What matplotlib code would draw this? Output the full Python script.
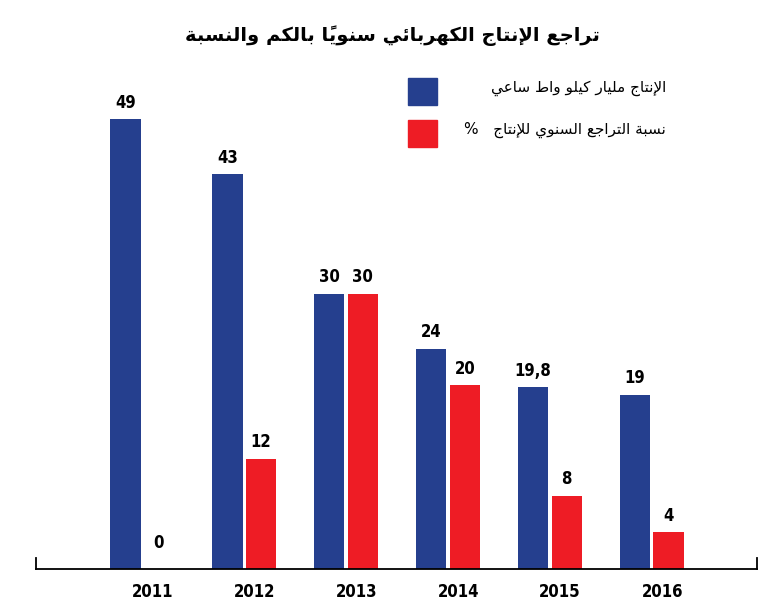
import numpy as np
import matplotlib
matplotlib.use('Agg')
from matplotlib import pyplot as plt
from matplotlib.patches import Rectangle

''' Data '''
years = ['2011', '2012', '2013', '2014', '2015', '2016']
production = [49, 43, 30, 24, 19.8, 19]
prod_labels = ['49', '43', '30', '24', '19,8', '19']
decline = [0, 12, 30, 20, 8, 4]
decline_labels = ['0', '12', '30', '20', '8', '4']

title = 'تراجع الإنتاج الكهربائي سنوياً بالكم والنسبة'
legend1 = 'الإنتاج مليار كيلو واط ساعي'
legend2 = 'نسبة التراجع السنوي للإنتاج   %'

''' Minimal Arabic shaping (matplotlib has none) '''
# base codepoint in Presentation Forms-B, number of forms (2 = right joining only)
FORMS = {
    'ا': (0xFE8D, 2), 'إ': (0xFE87, 2), 'أ': (0xFE83, 2), 'ب': (0xFE8F, 4),
    'ت': (0xFE95, 4), 'ة': (0xFE93, 2), 'ج': (0xFE9D, 4), 'ر': (0xFEAD, 2),
    'س': (0xFEB1, 4), 'ع': (0xFEC9, 4), 'ك': (0xFED9, 4), 'ل': (0xFEDD, 4),
    'م': (0xFEE1, 4), 'ن': (0xFEE5, 4), 'ه': (0xFEE9, 4), 'و': (0xFEED, 2),
    'ي': (0xFEF1, 4), 'ئ': (0xFE89, 4), 'ط': (0xFEC1, 4),
}
LAM_ALEF = {'ا': 0xFEFB, 'إ': 0xFEF9, 'أ': 0xFEF7}
MARKS = set('\u064b\u064c\u064d\u064e\u064f\u0650\u0651\u0652')


def shape(text):
    # group base letters with their marks
    clusters = []
    for ch in text:
        if ch in MARKS and clusters:
            clusters[-1][1] += ch
        else:
            clusters.append([ch, ''])
    # lam-alef ligatures
    merged = []
    i = 0
    while i < len(clusters):
        c = clusters[i]
        if c[0] == 'ل' and i + 1 < len(clusters) and clusters[i + 1][0] in LAM_ALEF:
            merged.append(['LA' + clusters[i + 1][0], c[1] + clusters[i + 1][1]])
            i += 2
        else:
            merged.append(c)
            i += 1

    def joins_left(b):  # can connect to next letter
        if b.startswith('LA'):
            return False
        return b in FORMS and FORMS[b][1] == 4

    def joins_right(b):
        return b.startswith('LA') or b in FORMS

    out = []
    for k, (b, m) in enumerate(merged):
        prev_j = k > 0 and joins_left(merged[k - 1][0]) and joins_right(b)
        next_j = k + 1 < len(merged) and joins_left(b) and joins_right(merged[k + 1][0])
        if b.startswith('LA'):
            g = chr(LAM_ALEF[b[2]] + (1 if prev_j else 0))
        elif b in FORMS:
            base, n = FORMS[b]
            if n == 4 and prev_j and next_j:
                g = chr(base + 3)
            elif n == 4 and next_j:
                g = chr(base + 2)
            elif prev_j:
                g = chr(base + 1)
            else:
                g = chr(base)
        else:
            g = b
        out.append(g + m)
    return ''.join(reversed(out))


blue = '#253f8e'
red = '#ee1c25'
numfont = dict(family='DejaVu Sans', fontstretch='condensed', fontweight='bold')

W, H = 784, 609
fig = plt.figure(figsize=(W / 100, H / 100), dpi=100)
ax = fig.add_axes([36 / W, 40 / H, (757 - 36) / W, (569 - 64) / H])

x = np.arange(len(years))
bw = 0.3
off = 0.165
ax.bar(x - off, production, bw, color=blue)
ax.bar(x + off, decline, bw, color=red)
for i in range(len(years)):
    ax.text(x[i] - off, production[i] + 0.8, prod_labels[i], ha='center', va='bottom',
            fontsize=12, **numfont)
    lift = 1.8 if decline[i] == 0 else 0.8
    ax.text(x[i] + off, decline[i] + lift, decline_labels[i], ha='center', va='bottom',
            fontsize=12, **numfont)

ax.set_xlim(-1.04, 6.03)
ax.set_ylim(0, 55)
for s in ['top', 'right', 'left']:
    ax.spines[s].set_visible(False)
ax.spines['bottom'].set_linewidth(1.3)
ax.plot([-1.04, -1.04], [0, 1.2], color='black', lw=1.3, clip_on=False)
ax.plot([6.03, 6.03], [0, 1.2], color='black', lw=1.3, clip_on=False)
ax.set_yticks([])
ax.set_xticks(x + 0.1)
ax.set_xticklabels(years, fontsize=12, **numfont)
ax.tick_params(axis='x', length=0, pad=10)

fig.text(392 / W, 1 - 36 / H, shape(title), ha='center', va='center',
         fontsize=14, fontweight='bold', family='DejaVu Sans')

for yy, col, txt in [(78, blue, legend1), (120, red, legend2)]:
    fig.patches.append(Rectangle((408 / W, 1 - (yy + 27) / H), 29 / W, 27 / H,
                                 color=col, transform=fig.transFigure))
    fig.text(666 / W, 1 - (yy + 10) / H, shape(txt), ha='right', va='center',
             fontsize=11, family='DejaVu Sans')

fig.savefig('out.png', dpi=100)
